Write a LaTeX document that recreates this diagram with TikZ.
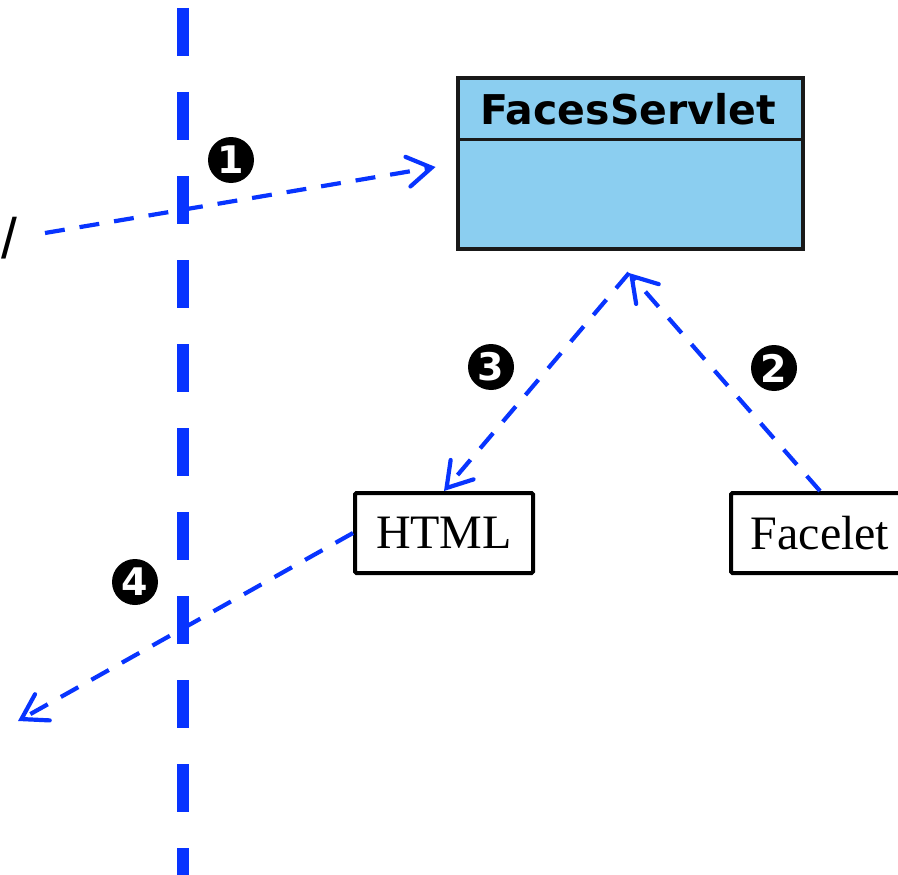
\documentclass[tikz,border=0pt]{standalone}
\usepackage{fontspec}
\setmainfont{Liberation Serif}
\newfontfamily\boldsans{DejaVu Sans Bold}
\newfontfamily\plainsans{Liberation Sans}
\usetikzlibrary{arrows.meta}
\definecolor{flowblue}{RGB}{8,52,255}
\definecolor{servletfill}{RGB}{139,206,240}
\definecolor{servletedge}{RGB}{25,25,25}
\tikzset{
  flow/.style={draw=flowblue, line width=4.2pt, dash pattern=on 20pt off 15pt,
    -{Straight Barb[length=24pt,width=30pt,line width=4.2pt,line cap=round]}},
  divider/.style={draw=flowblue, line width=12pt, dash pattern=on 48pt off 36pt},
  filebox/.style={draw=black, line width=4pt, fill=white, rounded corners=1.5pt,
    minimum width=178pt, minimum height=80pt, inner sep=0pt,
    font=\fontsize{48}{50}\selectfont},
  badge/.style={circle, fill=black, text=white, minimum size=46pt, inner sep=0pt,
    font=\boldsans\fontsize{38}{40}\selectfont},
}
\begin{document}
\begin{tikzpicture}[x=1pt,y=-1pt]
\useasboundingbox (0,0) rectangle (898,875);

% boundary between client and server
\coordinate (top) at (183,8);
\coordinate (bottom) at (183,875);
\draw[divider] (top) -- (bottom);

% FacesServlet class box
\node[draw=servletedge, line width=3.5pt, fill=servletfill, minimum width=345pt,
  minimum height=171pt, inner sep=0pt] (fs) at (630.5,163.5) {};
\draw[servletedge, line width=3pt] (fs.west |- 0,139) coordinate (dl) -- (fs.east |- 0,139) coordinate (dr);
\node[font=\boldsans\fontsize{41}{44}\selectfont, inner sep=0pt] (fstitle) at (628,109) {FacesServlet};

% file boxes
\node[filebox] (html) at (444,533) {HTML};
\node[filebox] (facelet) at (820,533) {Facelet};

% cut-off request text
\node[font=\plainsans\fontsize{57}{60}\selectfont, inner sep=0pt] (slash) at (9,238) {/};

% connectors
\coordinate (req) at (45,233);
\coordinate (apex) at (629,273);
\coordinate (resp) at (18,721);
\draw[flow, shorten >=21pt] (req) -- (fs.west);
\draw[flow] (facelet.north) -- (apex);
\draw[flow] (apex) -- (html.north);
\draw[flow] (html.west) -- (resp);

% step badges
\node[badge] (b1) at (231,160) {1};
\node[badge] (b2) at (774,368) {2};
\node[badge] (b3) at (491,367) {3};
\node[badge] (b4) at (135,582) {4};
\end{tikzpicture}
\end{document}
